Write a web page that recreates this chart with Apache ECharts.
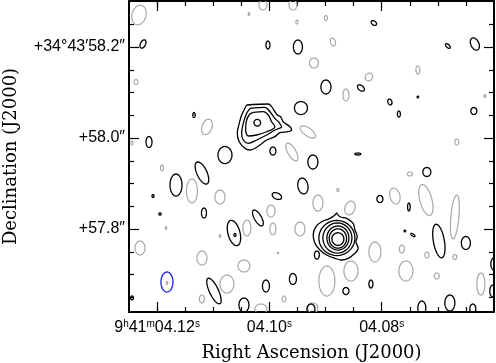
<!DOCTYPE html>
<html><head><meta charset="utf-8">
<script src="https://cdn.jsdelivr.net/npm/echarts@6/dist/echarts.min.js"></script>
<style>html,body{margin:0;padding:0;background:#fff}#c{width:496px;height:363px}</style>
</head><body><div id="c"></div>
<script>
// Axis ticks (RA in seconds of time past 9h41m, Dec in arcsec past +34°43')
const xMajorTicks = [4.12, 4.10, 4.08];
const xTickLabels = ['9{s|h}41{s|m}04.12{s|s}', '04.10{s|s}', '04.08{s|s}'];
const xMinorTicks = [4.065, 4.07, 4.075, 4.085, 4.09, 4.095, 4.105, 4.11, 4.115, 4.12];
const yMajorTicks = [57.8, 58.0, 58.2];
const yTickLabels = ['+57.8\u2033', '+58.0\u2033', '+34\u00b043\u203258.2\u2033'];
const yMinorTicks = [57.65, 57.7, 57.75, 57.85, 57.9, 57.95, 58.05, 58.1, 58.15, 58.25];

// Contour blobs: [RA (s), Dec ("), semi-axis E-W ("), semi-axis N-S ("), tilt (deg)]
const positiveBlobs = [
  [4.12251, 58.2066, 0.0055, 0.0099, -25],
  [4.11343, 58.0505, 0.0026, 0.0055, 0],
  [4.12144, 57.9912, 0.0066, 0.0121, 0],
  [4.10791, 57.9626, 0.0154, 0.0187, 0],
  [4.10026, 58.2044, 0.0044, 0.0088, 0],
  [4.09492, 58.2000, 0.0099, 0.0154, 0],
  [4.08139, 58.2527, 0.0066, 0.0044, -35],
  [4.08993, 58.1121, 0.0110, 0.0154, 0],
  [4.08370, 58.1099, 0.0088, 0.0055, -40],
  [4.09438, 58.0659, 0.0143, 0.0143, 0],
  [4.09225, 57.9473, 0.0110, 0.0154, 0],
  [4.09403, 57.8945, 0.0110, 0.0176, 10],
  [4.09866, 57.8725, 0.0110, 0.0066, -25],
  [4.09937, 57.9714, 0.0066, 0.0088, 0],
  [4.08424, 57.9648, 0.0066, 0.0022, 0],
  [4.06822, 58.2022, 0.0066, 0.0033, -45],
  [4.06341, 58.2066, 0.0088, 0.0143, 25],
  [4.07854, 58.0791, 0.0044, 0.0066, 20],
  [4.07356, 58.0901, 0.0018, 0.0018, 0],
  [4.07694, 58.0527, 0.0033, 0.0066, 0],
  [4.06359, 58.0593, 0.0066, 0.0077, 0],
  [4.07196, 57.9253, 0.0088, 0.0099, 0],
  [4.08032, 57.8659, 0.0066, 0.0077, 0],
  [4.07516, 57.8484, 0.0029, 0.0088, 0],
  [4.07587, 57.7956, 0.0018, 0.0018, 0],
  [4.07445, 57.7868, 0.0055, 0.0022, -35],
  [4.06982, 57.7736, 0.0121, 0.0374, 10],
  [4.06501, 57.7692, 0.0099, 0.0143, 0],
  [4.06003, 57.7231, 0.0066, 0.0132, 0],
  [4.08192, 57.6791, 0.0044, 0.0088, 0],
  [4.06021, 57.6637, 0.0066, 0.0132, 0],
  [4.07285, 57.6264, 0.0088, 0.0154, 0],
  [4.06786, 57.6374, 0.0110, 0.0176, 0],
  [4.06377, 57.6242, 0.0066, 0.0110, 0],
  [4.10204, 57.8242, 0.0077, 0.0198, 30],
  [4.09154, 57.7429, 0.0055, 0.0088, 0],
  [4.09581, 57.6901, 0.0077, 0.0121, 0],
  [4.10061, 57.6747, 0.0077, 0.0132, 0],
  [4.08637, 57.6637, 0.0066, 0.0077, 0],
  [4.09260, 57.6242, 0.0088, 0.0110, 0],
  [4.11663, 57.8967, 0.0132, 0.0242, 0],
  [4.11201, 57.9231, 0.0110, 0.0264, 25],
  [4.12073, 57.8725, 0.0022, 0.0033, 0],
  [4.11165, 57.8352, 0.0055, 0.0110, 0],
  [4.11948, 57.8330, 0.0026, 0.0026, 0],
  [4.10631, 57.7912, 0.0132, 0.0286, 15],
  [4.10613, 57.7868, 0.0022, 0.0033, 0],
  [4.10987, 57.6637, 0.0099, 0.0308, 25],
  [4.10453, 57.6330, 0.0110, 0.0154, 0],
  [4.12447, 57.6484, 0.0033, 0.0044, 0]
];
// Nested rings of the two sources
const sourceRings = [
  [4.08798, 57.7802, 0.0396, 0.0385, 0],
  [4.08789, 57.7802, 0.0319, 0.0330, 0],
  [4.08780, 57.7802, 0.0242, 0.0264, 0],
  [4.08780, 57.7791, 0.0191, 0.0213, 0],
  [4.08780, 57.7780, 0.0132, 0.0139, 0],
  [4.10216, 58.0336, 0.0073, 0.0073, 0]
];
const negativeBlobs = [
  [4.12322, 58.2703, 0.0154, 0.0220, -15],
  [4.12375, 58.1231, 0.0044, 0.0055, 0],
  [4.11112, 58.0242, 0.0110, 0.0176, -20],
  [4.12447, 57.9890, 0.0022, 0.0044, 0],
  [4.10364, 58.2725, 0.0018, 0.0033, 0],
  [4.10115, 58.2923, 0.0088, 0.0110, 0],
  [4.09581, 58.2923, 0.0088, 0.0110, 0],
  [4.09510, 58.2549, 0.0022, 0.0044, 0],
  [4.08993, 58.2637, 0.0033, 0.0055, 0],
  [4.08869, 58.2110, 0.0055, 0.0088, 15],
  [4.09207, 58.1648, 0.0099, 0.0110, 0],
  [4.08637, 58.0945, 0.0066, 0.0132, 0],
  [4.08228, 58.1341, 0.0077, 0.0088, -30],
  [4.09314, 58.0132, 0.0198, 0.0088, -35],
  [4.09599, 57.9692, 0.0088, 0.0220, 30],
  [4.07356, 58.1495, 0.0044, 0.0088, 0],
  [4.06163, 58.0923, 0.0022, 0.0033, 0],
  [4.06662, 57.9912, 0.0044, 0.0066, 0],
  [4.07498, 57.9209, 0.0055, 0.0044, 0],
  [4.08780, 57.8857, 0.0022, 0.0033, 0],
  [4.07765, 57.8725, 0.0110, 0.0176, 15],
  [4.07213, 57.8637, 0.0132, 0.0352, 15],
  [4.06697, 57.8264, 0.0088, 0.0484, -5],
  [4.07641, 57.7560, 0.0055, 0.0088, 0],
  [4.07196, 57.7429, 0.0044, 0.0066, 0],
  [4.06697, 57.7385, 0.0044, 0.0055, 0],
  [4.08121, 57.7495, 0.0132, 0.0220, 0],
  [4.07569, 57.7077, 0.0154, 0.0220, 0],
  [4.07018, 57.6967, 0.0055, 0.0066, 0],
  [4.06234, 57.6791, 0.0088, 0.0242, 0],
  [4.09136, 57.8571, 0.0110, 0.0176, 0],
  [4.08566, 57.8462, 0.0110, 0.0154, -20],
  [4.09972, 57.8396, 0.0088, 0.0132, 0],
  [4.09937, 57.8000, 0.0066, 0.0132, 0],
  [4.09456, 57.8000, 0.0110, 0.0154, 0],
  [4.09848, 57.7473, 0.0015, 0.0015, 0],
  [4.08976, 57.6857, 0.0176, 0.0330, 0],
  [4.08548, 57.7077, 0.0154, 0.0220, 0],
  [4.09741, 57.6462, 0.0044, 0.0066, 0],
  [4.10150, 57.6242, 0.0132, 0.0110, 0],
  [4.11913, 57.9341, 0.0033, 0.0066, 0],
  [4.11379, 57.8835, 0.0121, 0.0264, 0],
  [4.10880, 57.8703, 0.0110, 0.0154, 0],
  [4.11841, 57.8022, 0.0018, 0.0033, 0],
  [4.10880, 57.7846, 0.0018, 0.0033, 0],
  [4.10400, 57.8022, 0.0088, 0.0176, 0],
  [4.12304, 57.7582, 0.0110, 0.0154, 0],
  [4.11201, 57.7363, 0.0110, 0.0154, 0],
  [4.10453, 57.7187, 0.0132, 0.0132, 0],
  [4.10756, 57.6791, 0.0154, 0.0198, 0],
  [4.11201, 57.6462, 0.0055, 0.0088, 0],
  [4.11824, 57.6813, 0.0018, 0.0033, 0],
  [4.09225, 57.6264, 0.0110, 0.0110, 0]
];
const beam = [[4.11824, 57.6835, 0.0132, 0.0220, 0]];

// Irregular contours of the sources: [RA, Dec]
const source1Outer = [
  [4.08803,57.8358],[4.08744,57.8270],[4.08625,57.8235],[4.08507,57.8125],[4.08477,57.7978],
  [4.08436,57.7831],[4.08459,57.7721],[4.08418,57.7576],[4.08477,57.7466],[4.08596,57.7356],
  [4.08714,57.7319],[4.08833,57.7356],[4.08981,57.7429],[4.09100,57.7538],[4.09189,57.7686],
  [4.09220,57.7868],[4.09171,57.8051],[4.09070,57.8160],[4.08922,57.8235],[4.08833,57.8308]
];
const source2Outer = [
  [4.10405,58.0725],[4.10020,58.0747],[4.09960,58.0688],[4.09860,58.0505],[4.09800,58.0468],
  [4.09753,58.0358],[4.09634,58.0248],[4.09604,58.0176],[4.09665,58.0138],[4.09812,58.0116],
  [4.09901,58.0029],[4.10049,57.9956],[4.10168,57.9846],[4.10346,57.9736],[4.10435,57.9774],
  [4.10537,57.9919],[4.10572,58.0103],[4.10537,58.0323],[4.10494,58.0505],[4.10435,58.0653]
];
const source2Mid = [
  [4.10346,58.0653],[4.10079,58.0675],[4.09990,58.0578],[4.09901,58.0433],[4.09825,58.0336],
  [4.09782,58.0248],[4.09901,58.0176],[4.10049,58.0066],[4.10227,57.9956],[4.10376,57.9884],
  [4.10465,57.9956],[4.10494,58.0103],[4.10465,58.0323],[4.10405,58.0543]
];
const source2Inner = [
  [4.10287,58.0565],[4.10109,58.0578],[4.10020,58.0505],[4.09960,58.0358],[4.09901,58.0248],
  [4.10049,58.0138],[4.10227,58.0066],[4.10376,58.0044],[4.10423,58.0176],[4.10405,58.0396],
  [4.10346,58.0527]
];

const SEC_PER_ARCSEC = 1 / 12.33;
function ellipseRenderer(color, width) {
  return function (params, api) {
    const c = api.coord([api.value(0), api.value(1)]);
    const s = api.size([api.value(2) * SEC_PER_ARCSEC, api.value(3)]);
    const rx = Math.abs(s[0]), ry = Math.abs(s[1]);
    const th = api.value(4) * Math.PI / 180;
    const pts = [];
    const n = 40;
    for (let k = 0; k < n; k++) {
      const t = k / n * 2 * Math.PI;
      const x = rx * Math.cos(t), y = ry * Math.sin(t);
      pts.push([c[0] + x * Math.cos(th) + y * Math.sin(th), c[1] - x * Math.sin(th) + y * Math.cos(th)]);
    }
    return { type: 'polygon', shape: { points: pts }, style: { fill: 'none', stroke: color, lineWidth: width } };
  };
}
function closed(a) { return a.concat([a[0]]); }
function contourLine(data, color) {
  return { type: 'line', data: closed(data), xAxisIndex: 0, yAxisIndex: 0, smooth: 0.35, symbol: 'none',
    lineStyle: { color: color, width: 1.3 }, silent: true, animation: false };
}

const BLACK = '#000', GRAY = '#a8a8a8';
const labelFont = 'Liberation Sans, Arial, Helvetica, sans-serif';
const titleFont = 'DejaVu Serif, serif';
const xr = { type: 'value', min: 4.06, max: 4.125, inverse: true, splitLine: { show: false } };
const yr = { type: 'value', min: 57.6176, max: 58.3011, splitLine: { show: false } };
const frameLine = { show: true, onZero: false, lineStyle: { color: '#000', width: 2 } };
const tickStyle = { color: '#000', width: 1.2 };

const chart = echarts.init(document.getElementById('c'), null, { renderer: 'canvas' });
chart.setOption({
  animation: false,
  backgroundColor: '#fff',
  grid: { left: 129, top: 1, width: 365, height: 311, containLabel: false, outerBoundsMode: 'none' },
  xAxis: [
    Object.assign({}, xr, { position: 'bottom', axisLine: frameLine,
      axisTick: { inside: true, length: 10, customValues: xMajorTicks, lineStyle: tickStyle },
      axisLabel: { customValues: xMajorTicks, color: '#000', fontFamily: labelFont, fontSize: 16, margin: 7,
        formatter: v => xTickLabels[xMajorTicks.findIndex(t => Math.abs(t - v) < 1e-6)] || '',
        rich: { s: { fontSize: 10, fontFamily: labelFont, color: '#000', padding: [0, 0, 8, 0] } } },
      name: 'Right Ascension (J2000)', nameLocation: 'middle', nameGap: 32,
      nameTextStyle: { fontFamily: titleFont, fontSize: 18, color: '#000' } }),
    Object.assign({}, xr, { position: 'bottom', axisLine: { show: false },
      axisTick: { inside: true, length: 5, customValues: xMinorTicks, lineStyle: tickStyle }, axisLabel: { show: false } }),
    Object.assign({}, xr, { position: 'top', axisLine: frameLine,
      axisTick: { inside: true, length: 10, customValues: xMajorTicks, lineStyle: tickStyle }, axisLabel: { show: false } }),
    Object.assign({}, xr, { position: 'top', axisLine: { show: false },
      axisTick: { inside: true, length: 5, customValues: xMinorTicks, lineStyle: tickStyle }, axisLabel: { show: false } })
  ],
  yAxis: [
    Object.assign({}, yr, { position: 'left', axisLine: frameLine,
      axisTick: { inside: true, length: 10, customValues: yMajorTicks, lineStyle: tickStyle },
      axisLabel: { customValues: yMajorTicks, color: '#000', fontFamily: labelFont, fontSize: 16, margin: 4,
        formatter: v => yTickLabels[yMajorTicks.findIndex(t => Math.abs(t - v) < 1e-6)] || '' },
      name: 'Declination (J2000)', nameLocation: 'middle', nameGap: 109,
      nameTextStyle: { fontFamily: titleFont, fontSize: 18, color: '#000' } }),
    Object.assign({}, yr, { position: 'left', axisLine: { show: false },
      axisTick: { inside: true, length: 5, customValues: yMinorTicks, lineStyle: tickStyle }, axisLabel: { show: false } }),
    Object.assign({}, yr, { position: 'right', axisLine: frameLine,
      axisTick: { inside: true, length: 10, customValues: yMajorTicks, lineStyle: tickStyle }, axisLabel: { show: false } }),
    Object.assign({}, yr, { position: 'right', axisLine: { show: false },
      axisTick: { inside: true, length: 5, customValues: yMinorTicks, lineStyle: tickStyle }, axisLabel: { show: false } })
  ],
  series: [
    { type: 'custom', name: 'negative', data: negativeBlobs, encode: { x: 0, y: 1 }, clip: true,
      renderItem: ellipseRenderer(GRAY, 1.2), silent: true },
    { type: 'custom', name: 'positive', data: positiveBlobs.concat(sourceRings), encode: { x: 0, y: 1 }, clip: true,
      renderItem: ellipseRenderer(BLACK, 1.3), silent: true },
    { type: 'custom', name: 'beam', data: beam, encode: { x: 0, y: 1 }, clip: true,
      renderItem: ellipseRenderer('#1f1fff', 1.3), silent: true },
    contourLine(source1Outer, BLACK),
    contourLine(source2Outer, BLACK),
    contourLine(source2Mid, BLACK),
    contourLine(source2Inner, BLACK)
  ]
});
</script></body></html>
